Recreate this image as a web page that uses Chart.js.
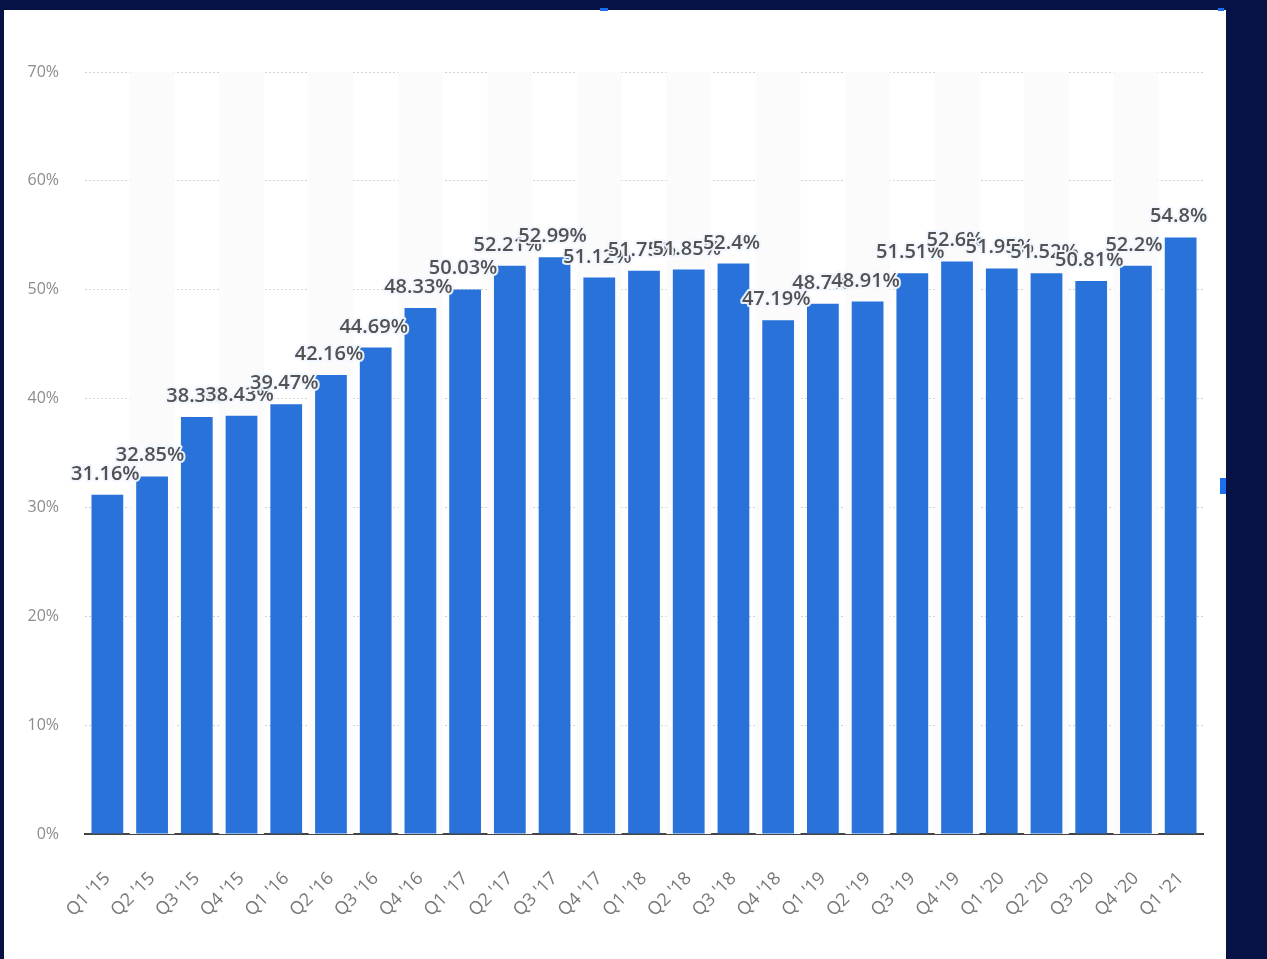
<!DOCTYPE html>
<html>
<head>
<meta charset="utf-8">
<script src="https://cdn.jsdelivr.net/npm/chart.js@4.4.0/dist/chart.umd.min.js"></script>
<style>
  html, body { margin: 0; padding: 0; background: #061246; width: 1267px; height: 959px; overflow: hidden; }
  #card { position: absolute; left: 4px; top: 10px; width: 1222px; height: 949px; background: #ffffff; }
  #wrap { position: absolute; left: 0; top: 0; width: 1267px; height: 959px; }
  .mark { position: absolute; background: #1a6ff0; }
</style>
</head>
<body>
<div id="card"></div>
<div class="mark" style="left:1220px;top:478px;width:6px;height:16px;"></div>
<div class="mark" style="left:600px;top:8px;width:8px;height:3px;"></div>
<div class="mark" style="left:1218px;top:8px;width:6px;height:3px;"></div>
<div id="wrap"><canvas id="c" width="1267" height="959"></canvas></div>
<script>
const categories = ["Q1 '15","Q2 '15","Q3 '15","Q4 '15","Q1 '16","Q2 '16","Q3 '16","Q4 '16",
  "Q1 '17","Q2 '17","Q3 '17","Q4 '17","Q1 '18","Q2 '18","Q3 '18","Q4 '18",
  "Q1 '19","Q2 '19","Q3 '19","Q4 '19","Q1 '20","Q2 '20","Q3 '20","Q4 '20","Q1 '21"];
const values = [31.16, 32.85, 38.3, 38.43, 39.47, 42.16, 44.69, 48.33,
  50.03, 52.21, 52.99, 51.12, 51.75, 51.85, 52.4, 47.19,
  48.7, 48.91, 51.51, 52.6, 51.95, 51.52, 50.81, 52.2, 54.8];
const yTicks = [0, 10, 20, 30, 40, 50, 60, 70];

const stripes = {
  id: 'stripes',
  beforeDatasetsDraw(chart) {
    const {ctx, chartArea, scales} = chart;
    const x = scales.x;
    const w = (x.getPixelForValue(1) - x.getPixelForValue(0));
    ctx.save();
    ctx.fillStyle = '#fbfbfb';
    for (let i = 1; i < categories.length; i += 2) {
      const cx = x.getPixelForValue(i);
      ctx.fillRect(cx - w / 2, chartArea.top, w, chartArea.bottom - chartArea.top);
    }
    ctx.restore();
  }
};

const labelsPlugin = {
  id: 'valueLabels',
  afterDatasetsDraw(chart) {
    const {ctx} = chart;
    const meta = chart.getDatasetMeta(0);
    ctx.save();
    ctx.font = '600 20px "Open Sans", "DejaVu Sans", sans-serif';
    ctx.textAlign = 'center';
    ctx.textBaseline = 'alphabetic';
    ctx.lineJoin = 'round';
    meta.data.forEach((bar, i) => {
      const txt = values[i] + '%';
      const y = bar.y - 15;
      ctx.strokeStyle = 'rgba(240,246,255,0.95)';
      ctx.lineWidth = 4;
      ctx.strokeText(txt, bar.x - 2, y);
      ctx.fillStyle = '#525252';
      ctx.fillText(txt, bar.x - 2, y);
    });
    ctx.restore();
  }
};

new Chart(document.getElementById('c'), {
  type: 'bar',
  data: {
    labels: categories,
    datasets: [{
      data: values,
      backgroundColor: '#2872da',
      borderWidth: 0,
      categoryPercentage: 1,
      barPercentage: 0.71
    }]
  },
  options: {
    responsive: false,
    animation: false,
    devicePixelRatio: 1,
    layout: { padding: { top: 72, right: 64, left: 0, bottom: 0 } },
    plugins: { legend: { display: false }, tooltip: { enabled: false } },
    scales: {
      y: {
        min: 0, max: 70,
        afterFit(s) { s.width = 85; },
        afterBuildTicks(s) { s.ticks = yTicks.map(v => ({ value: v })); },
        ticks: {
          padding: 26,
          color: '#8c8c8c',
          font: { family: '"Open Sans", "DejaVu Sans", sans-serif', size: 16 },
          callback: v => v + '%'
        },
        grid: { color: '#d4d4d4', lineWidth: 1, drawTicks: false },
        border: { display: false, dash: [2, 2] }
      },
      x: {
        afterFit(s) { s.height = 125; },
        ticks: {
          minRotation: 45, maxRotation: 45,
          padding: 34,
          color: '#777777',
          font: { family: '"Open Sans", "DejaVu Sans", sans-serif', size: 18 },
          autoSkip: false
        },
        grid: { display: false, drawTicks: false },
        border: { display: true, color: '#444444', width: 2 }
      }
    }
  },
  plugins: [stripes, labelsPlugin]
});
</script>
</body>
</html>
